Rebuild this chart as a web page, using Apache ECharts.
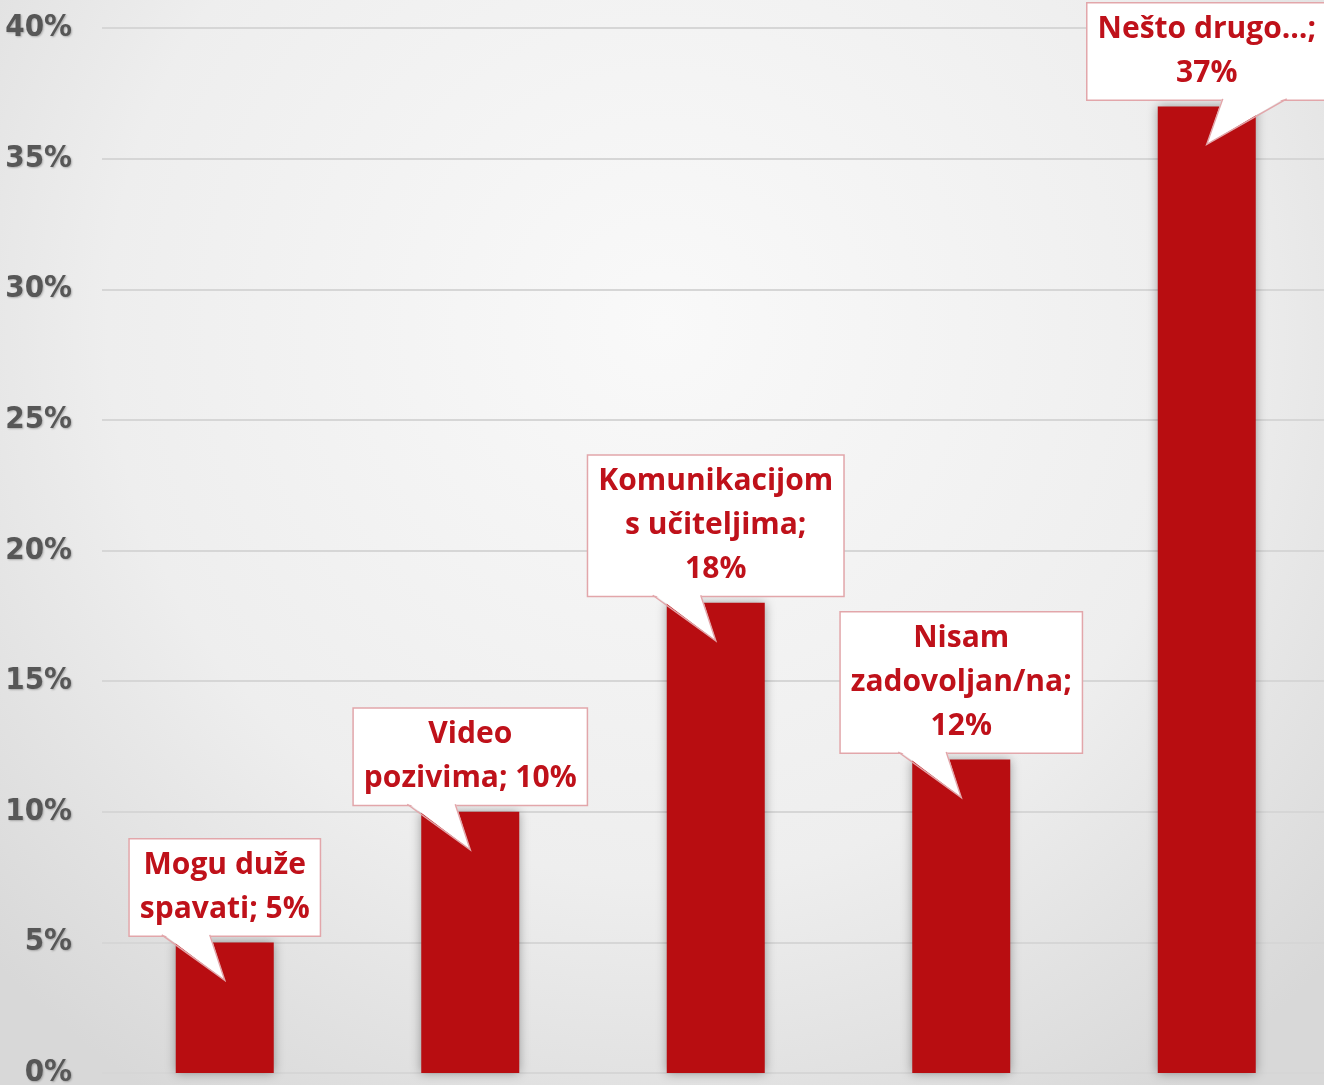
<!DOCTYPE html>
<html lang="hr">
<head>
  <meta charset="UTF-8">
  <title>Stupčasti graf</title>
  <script src="https://cdn.jsdelivr.net/npm/echarts@6/dist/echarts.min.js"></script>
  <style>
    html, body { margin: 0; padding: 0; }
    #chart { width: 1324px; height: 1085px; }
  </style>
</head>
<body>
  <div id="chart"></div>
  <script type="text/javascript">
    // podaci
    const categories = ['Mogu duže\nspavati', 'Video\npozivima', 'Komunikacijom\ns učiteljima', 'Nisam\nzadovoljan/na', 'Nešto drugo…'];
    const values = [5, 10, 18, 12, 37];
    const valueSep = [' ', ' ', '\n', '\n', '\n'];
    const yTicks = [0, 5, 10, 15, 20, 25, 30, 35, 40];

    const RED = '#b80d11';
    const TEXT_RED = '#bf111a';
    const PINK = '#e2a6aa';
    const LABEL_GAP = 7;

    let chart = echarts.init(document.getElementById('chart'));

    // strelica oblačića
    function renderPointer(params, api) {
      let i = api.value(0);
      let pt = api.coord([i, api.value(1)]);
      let cx = pt[0], top = pt[1];
      let baseY = top - LABEL_GAP - 0.5;
      let tip = [cx, top + 38];
      let a, b;
      if (i === values.length - 1) {
        a = [cx + 16, baseY]; b = [cx + 80, baseY];
      } else {
        a = [cx - 63, baseY]; b = [cx - 15, baseY];
      }
      return {
        type: 'group',
        children: [
          {
            type: 'polygon',
            shape: { points: [[a[0], baseY - 2], [b[0], baseY - 2], tip] },
            style: { fill: '#ffffff' }
          },
          {
            type: 'polyline',
            shape: { points: [a, tip, b] },
            style: { stroke: PINK, lineWidth: 1.5, fill: null }
          }
        ]
      };
    }

    let option = {
      animation: false,
      backgroundColor: {
        type: 'radial', x: 0.5, y: 0.3, r: 0.85,
        colorStops: [
          { offset: 0, color: '#f9f9f9' },
          { offset: 0.6, color: '#eeeeee' },
          { offset: 1, color: '#d8d8d8' }
        ]
      },
      grid: { left: 102, right: -5.5, top: 28, bottom: 12, outerBoundsMode: 'none', containLabel: false },
      xAxis: {
        type: 'category',
        data: categories,
        axisLine: { show: false },
        axisTick: { show: false },
        axisLabel: { show: false }
      },
      yAxis: {
        type: 'value',
        min: yTicks[0],
        max: yTicks[yTicks.length - 1],
        interval: 5,
        axisLine: { show: false },
        axisTick: { show: false },
        axisLabel: {
          formatter: '{value}%',
          margin: 30,
          fontFamily: '"DejaVu Sans Condensed", sans-serif',
          fontWeight: 'bold',
          fontSize: 31,
          color: '#575757',
          textShadowColor: 'rgba(0,0,0,0.25)',
          textShadowBlur: 2,
          textShadowOffsetX: 1,
          textShadowOffsetY: 1
        },
        splitLine: { lineStyle: { color: '#d6d6d6', width: 2 } }
      },
      series: [
        {
          type: 'bar',
          data: values,
          barWidth: 98,
          itemStyle: {
            color: RED,
            shadowColor: 'rgba(0,0,0,0.35)',
            shadowBlur: 10
          },
          label: {
            show: true,
            position: 'top',
            distance: LABEL_GAP,
            formatter: function (p) {
              return p.name + ';' + valueSep[p.dataIndex] + p.value + '%';
            },
            fontFamily: '"Open Sans", "Noto Sans", sans-serif',
            fontWeight: 'bold',
            fontSize: 30,
            lineHeight: 44,
            color: TEXT_RED,
            align: 'center',
            backgroundColor: '#ffffff',
            borderColor: PINK,
            borderWidth: 1.5,
            padding: [4, 10, 4, 10]
          },
          z: 2
        },
        {
          type: 'custom',
          coordinateSystem: 'cartesian2d',
          renderItem: renderPointer,
          data: values.map((v, i) => [i, v]),
          silent: true,
          z: 10
        }
      ]
    };
    chart.setOption(option);
  </script>
</body>
</html>
